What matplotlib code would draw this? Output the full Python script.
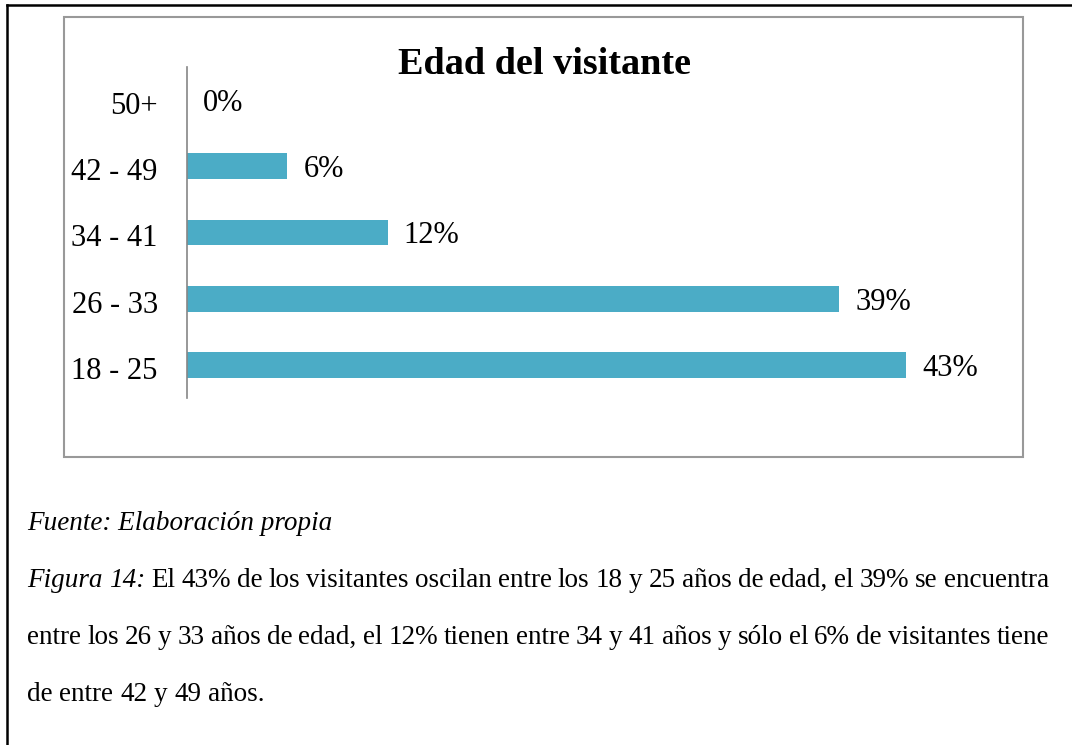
import matplotlib
matplotlib.use('Agg')
import matplotlib.pyplot as plt
from matplotlib.patches import Rectangle
from matplotlib.lines import Line2D
from matplotlib.transforms import ScaledTranslation

plt.rcParams['font.family'] = ['Liberation Serif', 'DejaVu Serif']

# ── Data ─────────────────────────────────────────────
categories = ['18 - 25', '26 - 33', '34 - 41', '42 - 49', '50+']
values = [43, 39, 12, 6, 0]
value_labels = ['43%', '39%', '12%', '6%', '0%']
title = 'Edad del visitante'
source = 'Fuente: Elaboración propia'
caption_lines = [
    [('Figura', 'italic'), ('14:', 'italic')] + [(w, 'normal') for w in
     'El 43% de los visitantes oscilan entre los 18 y 25 años de edad, el 39% se encuentra'.split()],
    [(w, 'normal') for w in
     'entre los 26 y 33 años de edad, el 12% tienen entre 34 y 41 años y sólo el 6% de visitantes tiene'.split()],
    [(w, 'normal') for w in 'de entre 42 y 49 años.'.split()],
]

W, H = 1072, 745
fig = plt.figure(figsize=(W / 100, H / 100), dpi=100)
fig.patch.set_facecolor('white')

def fx(px):
    return px / W

def fy(py):
    return 1 - py / H

# outer page border (left + top)
fig.add_artist(Line2D([fx(7), fx(7)], [fy(5), 0], color='black', lw=1.8, transform=fig.transFigure))
fig.add_artist(Line2D([fx(7), 1], [fy(5), fy(5)], color='black', lw=1.8, transform=fig.transFigure))

# chart frame
fig.add_artist(Rectangle((fx(64), fy(457)), fx(1023) - fx(64), fy(17) - fy(457),
                         transform=fig.transFigure, fill=False, edgecolor='#999999', lw=1.5))

# ── Bars ─────────────────────────────────────────────
ax_left, ax_top, ax_bot = 187, 67, 398
px_per_unit = 16.72
xmax = 50
ax = fig.add_axes([fx(ax_left), fy(ax_bot), fx(xmax * px_per_unit), fy(ax_top) - fy(ax_bot)])
ypos = list(range(len(categories)))
ax.barh(ypos, values, height=0.39, color='#4BACC6')
ax.set_xlim(0, xmax)
ax.set_ylim(-0.5, len(categories) - 0.5)
ax.set_yticks(ypos)
ax.set_yticklabels(categories, fontsize=22)
ax.tick_params(axis='y', length=0, pad=21)
shift = ScaledTranslation(0, -3 / 100, fig.dpi_scale_trans)
for lab in ax.get_yticklabels():
    lab.set_transform(lab.get_transform() + shift)
ax.set_xticks([])
for s in ['top', 'right', 'bottom']:
    ax.spines[s].set_visible(False)
ax.spines['left'].set_color('#868686')
ax.spines['left'].set_linewidth(1.2)
ax.patch.set_alpha(0)

for y, v, lab in zip(ypos, values, value_labels):
    ax.annotate(lab, (v, y), xytext=(11.5, -2.5), textcoords='offset points',
                ha='left', va='center', fontsize=22)

fig.text(fx(545), fy(64), title, ha='center', va='center', fontsize=27.5, fontweight='bold')

# ── Caption ─────────────────────────────────────────
fs = 19.5
x0, x1 = 27, 1049
fig.text(fx(x0), fy(530), source, ha='left', va='baseline', fontsize=fs, style='italic')

renderer = fig.canvas.get_renderer()
baselines = [587, 644, 701]
for li, (words, base) in enumerate(zip(caption_lines, baselines)):
    texts = [fig.text(0, fy(base), w, ha='left', va='baseline', fontsize=fs, style=st)
             for w, st in words]
    widths = [t.get_window_extent(renderer).width for t in texts]
    if li < len(caption_lines) - 1:
        gap = (x1 - x0 - sum(widths)) / (len(words) - 1)
    else:
        sp = fig.text(0, 0, 'a a', fontsize=fs)
        sa = fig.text(0, 0, 'aa', fontsize=fs)
        gap = sp.get_window_extent(renderer).width - sa.get_window_extent(renderer).width
        sp.remove()
        sa.remove()
    x = x0
    for t, w in zip(texts, widths):
        t.set_x(fx(x))
        x += w + gap

fig.savefig('out.png', dpi=100)
